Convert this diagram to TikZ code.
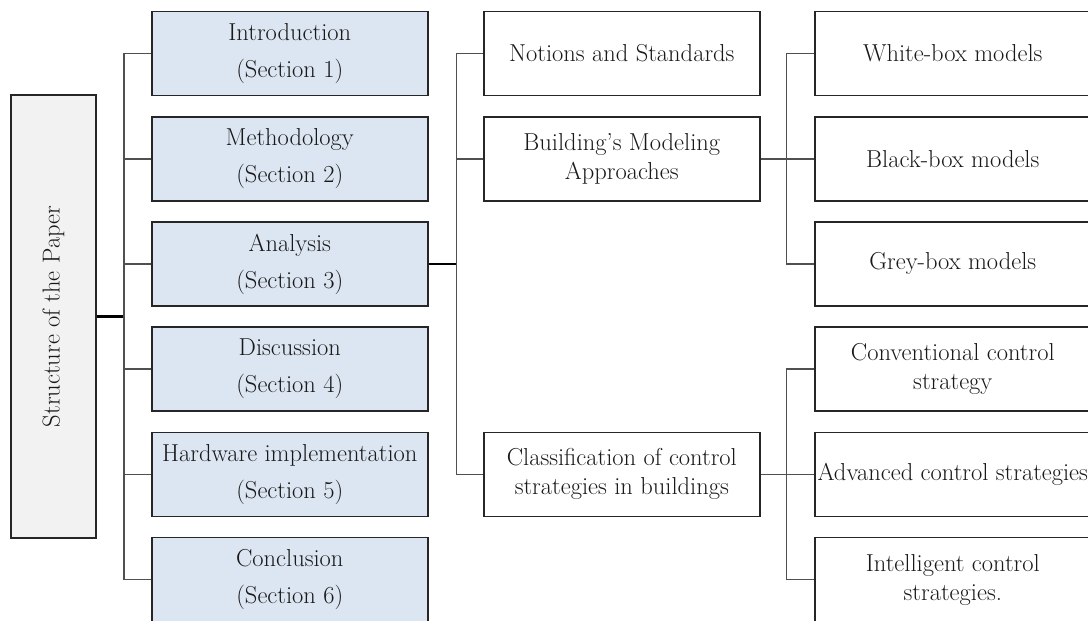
\documentclass[tikz,border=0pt]{standalone}
\definecolor{secblue}{HTML}{DCE6F2}
\definecolor{rootgray}{HTML}{F2F2F2}
\definecolor{linkgray}{HTML}{505050}

\begin{document}
\begin{tikzpicture}[x=1pt,y=-1pt,
  box/.style={draw=black!85, line width=1.6pt, text=black!90, minimum width=276pt,
    minimum height=84pt, inner sep=0pt, anchor=west, align=center,
    font=\fontsize{24.5}{29}\selectfont},
  secbox/.style={box, fill=secblue, font=\fontsize{24.5}{37}\selectfont},
  link/.style={draw=linkgray, line width=1.6pt}]
\useasboundingbox (0,0) rectangle (1088,621);

% root
\node[draw=black!85, fill=rootgray, line width=1.6pt, text=black!90, minimum width=85pt,
  minimum height=443pt, inner sep=0pt, font=\fontsize{24.5}{29}\selectfont]
  (root) at (53.5,316.5) {\rotatebox{90}{Structure of the Paper}};

% sections
\node[secbox] (intro) at (151,53.5) {Introduction\\(Section 1)};
\node[secbox] (meth) at (151,158.7) {Methodology\\(Section 2)};
\node[secbox] (ana) at (151,263.9) {Analysis\\(Section 3)};
\node[secbox] (disc) at (151,369.1) {Discussion\\(Section 4)};
\node[secbox] (hw) at (151,474.3) {Hardware implementation\\(Section 5)};
\node[secbox] (concl) at (151,579.5) {Conclusion\\(Section 6)};

% analysis parts
\node[box] (notions) at (483,53.5) {Notions and Standards};
\node[box] (build) at (483,158.7) {Building's Modeling\\Approaches};
\node[box] (classif) at (483,474.3) {Classification of control\\strategies in buildings};

% models
\node[box] (white) at (814,53.5) {White-box models};
\node[box] (black) at (814,158.7) {Black-box models};
\node[box] (grey) at (814,263.9) {Grey-box models};

% control strategies
\node[box] (conv) at (814,369.1) {Conventional control\\strategy};
\node[box] (adv) at (814,474.3) {Advanced control strategies};
\node[box] (intel) at (814,579.5) {Intelligent control\\strategies.};

% links
\path (root.east) ++(27,0) coordinate (j1);
\path (ana.east) ++(28,0) coordinate (j2);
\path (build.east) ++(26,0) coordinate (j3);
\path (classif.east) ++(26,0) coordinate (j4);

\draw[black, line width=2.4pt] (root.east) -- (j1);
\foreach \n in {intro,meth,ana,disc,hw,concl}
  \draw[link] (j1) |- (\n.west);
\draw[black, line width=2pt] (ana.east) -- (j2);
\foreach \n in {notions,build,classif}
  \draw[link] (j2) |- (\n.west);
\draw[link] (build.east) -- (j3);
\foreach \n in {white,black,grey}
  \draw[link] (j3) |- (\n.west);
\draw[link] (classif.east) -- (j4);
\foreach \n in {conv,adv,intel}
  \draw[link] (j4) |- (\n.west);
\end{tikzpicture}
\end{document}
